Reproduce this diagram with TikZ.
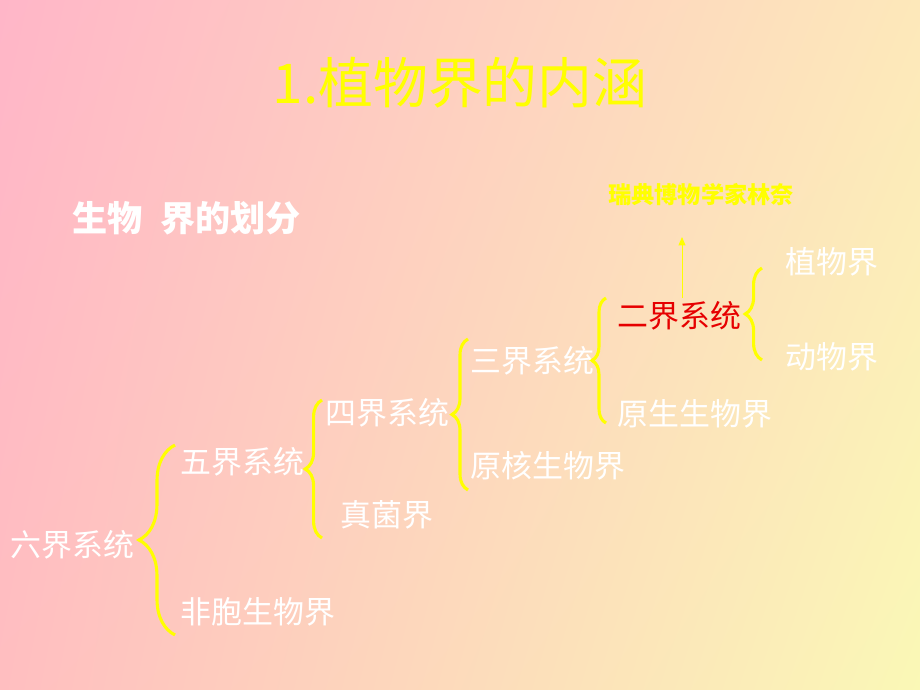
\documentclass[tikz,border=0pt]{standalone}
\usepackage{fontspec}
\setmainfont{Noto Sans CJK SC}
\usepackage{xcolor}
\usepackage{tikz}
\usetikzlibrary{arrows,arrows.meta,positioning,decorations.pathreplacing,shadings}

\definecolor{bgTL}{RGB}{255,182,200}
\definecolor{bgTR}{RGB}{253,232,186}
\definecolor{bgBL}{RGB}{255,190,192}
\definecolor{bgBR}{RGB}{250,248,182}
\definecolor{brYellow}{RGB}{255,255,0}
\definecolor{erRed}{RGB}{230,0,0}

\begin{document}
\begin{tikzpicture}[
    x=0.025cm, y=-0.025cm,
    item/.style={anchor=west, inner sep=0pt, text=white, font=\fontsize{22}{22}\selectfont},
    brc/.style={draw=brYellow, line width=2.2pt, decorate, decoration={brace, amplitude=#1}}
]
% background
\shade[upper left=bgTL, upper right=bgTR, lower left=bgBL, lower right=bgBR] (0,0) rectangle (920,690);
\useasboundingbox (0,0) rectangle (920,690);

% titles
\node[inner sep=0pt, text=brYellow, font=\fontsize{39}{39}\selectfont] (title) at (460,83) {1.植物界的内涵};
\node[item, font=\fontsize{25}{25}\selectfont\bfseries] (head) at (72,218) {生物\hspace{0.5em}界的划分};
\node[anchor=west, inner sep=0pt, text=brYellow, font=\fontsize{16.5}{17}\selectfont\bfseries] (linnaeus) at (608,195) {瑞典博物学家林奈};

% kingdoms
\node[item] (six) at (10,545) {六界系统};
\node[item] (five) at (180,462) {五界系统};
\node[item] (acell) at (180,612) {非胞生物界};
\node[item] (four) at (325,413) {四界系统};
\node[item] (fungi) at (340,515) {真菌界};
\node[item] (three) at (470,361) {三界系统};
\node[item] (prok) at (470,466) {原核生物界};
\node[item, text=erRed] (two) at (617,316) {二界系统};
\node[item] (prot) at (617,414) {原生生物界};
\node[item] (plant) at (785,262) {植物界};
\node[item] (animal) at (785,357) {动物界};

% brace ends
\coordinate (b1t) at (175,445);
\coordinate (b1b) at (175,635);
\coordinate (b2t) at (322,400);
\coordinate (b2b) at (322,538);
\coordinate (b3t) at (468,339);
\coordinate (b3b) at (468,490);
\coordinate (b4t) at (606,298);
\coordinate (b4b) at (606,423);
\coordinate (b5t) at (762,268);
\coordinate (b5b) at (762,360);

\draw[brc=0.9cm] (b1b) -- (b1t);
\draw[brc=0.42cm] (b2b) -- (b2t);
\draw[brc=0.4cm] (b3b) -- (b3t);
\draw[brc=0.35cm] (b4b) -- (b4t);
\draw[brc=0.42cm] (b5b) -- (b5t);

% arrow to Linnaeus
\coordinate (arrlow) at (682,298);
\coordinate (arrtip) at (682,237);
\draw[brYellow, line width=0.7pt, -{Triangle[width=5pt,length=6pt]}] (arrlow) -- (arrtip);
\end{tikzpicture}
\end{document}
